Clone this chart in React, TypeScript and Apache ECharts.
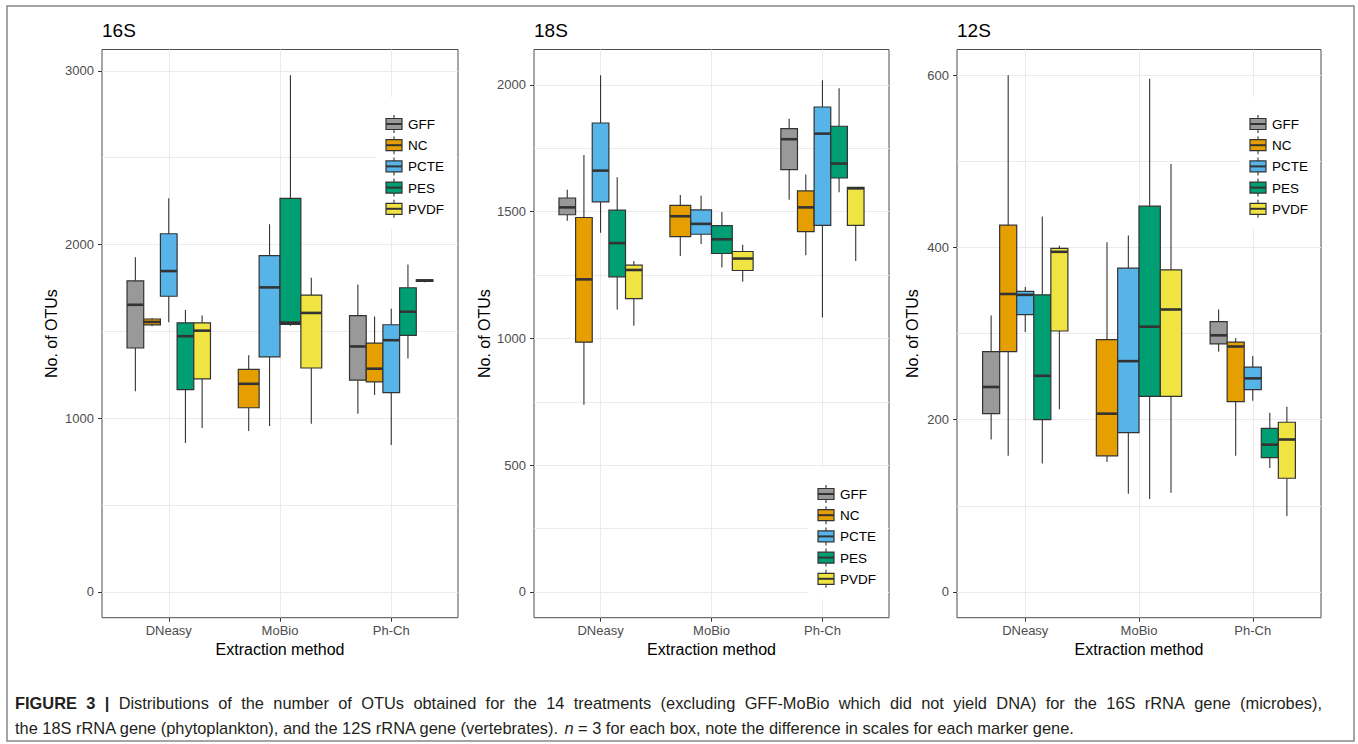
import React, { useEffect, useRef } from 'react';
import * as echarts from 'echarts';

const methods = ['DNeasy', 'MoBio', 'Ph-Ch'];
const treatments = ['GFF', 'NC', 'PCTE', 'PES', 'PVDF'];
const treatmentColors = ['#999999', '#E69F00', '#56B4E9', '#009E73', '#F0E442'];
const panelTitles = ['16S', '18S', '12S'];

type Box = number[] | null;
// per method (DNeasy, MoBio, Ph-Ch): [min, q1, median, q3, max]; null = no DNA
const gff16S: Box[] = [[1155, 1404, 1653, 1791, 1926], null, [1026, 1219, 1413, 1591, 1770]];
const nc16S: Box[] = [[1529, 1537, 1554, 1571, 1577], [926, 1060, 1198, 1281, 1362], [1134, 1209, 1285, 1432, 1585]];
const pcte16S: Box[] = [[1553, 1702, 1847, 2062, 2266], [955, 1353, 1753, 1936, 2117], [845, 1147, 1449, 1538, 1630]];
const pes16S: Box[] = [[857, 1164, 1472, 1549, 1623], [1532, 1540, 1550, 2266, 2974], [1343, 1477, 1613, 1751, 1885]];
const pvdf16S: Box[] = [[943, 1226, 1504, 1549, 1591], [968, 1289, 1606, 1709, 1809], [1783, 1787, 1793, 1797, 1800]];

const gff18S: Box[] = [[1464, 1488, 1517, 1554, 1587], null, [1547, 1666, 1786, 1828, 1867]];
const nc18S: Box[] = [[738, 985, 1233, 1477, 1724], [1325, 1402, 1482, 1525, 1566], [1328, 1421, 1517, 1582, 1647]];
const pcte18S: Box[] = [[1417, 1539, 1662, 1850, 2038], [1373, 1411, 1452, 1507, 1563], [1083, 1446, 1808, 1913, 2019]];
const pes18S: Box[] = [[1114, 1243, 1376, 1506, 1636], [1280, 1335, 1391, 1445, 1499], [1577, 1633, 1690, 1837, 1987]];
const pvdf18S: Box[] = [[1050, 1157, 1270, 1289, 1305], [1224, 1268, 1315, 1343, 1370], [1305, 1446, 1592, 1596, 1596]];

const gff12S: Box[] = [[177, 207, 238, 279, 321], null, [279, 288, 298, 314, 328]];
const nc12S: Box[] = [[158, 279, 346, 426, 600], [151, 158, 207, 293, 406], [158, 221, 285, 290, 295]];
const pcte12S: Box[] = [[302, 322, 345, 349, 354], [114, 185, 268, 376, 414], [222, 235, 248, 261, 274]];
const pes12S: Box[] = [[149, 200, 251, 345, 436], [108, 227, 308, 448, 596], [144, 156, 171, 190, 208]];
const pvdf12S: Box[] = [[212, 303, 395, 399, 402], [115, 227, 328, 374, 497], [88, 132, 177, 197, 215]];

const ticks16S = [0, 1000, 2000, 3000];
const ticks18S = [0, 500, 1000, 1500, 2000];
const ticks12S = [0, 200, 400, 600];

const captionLine1Bold = ['FIGURE', '3', '|'];
const captionLine1 = 'Distributions of the number of OTUs obtained for the 14 treatments (excluding GFF-MoBio which did not yield DNA) for the 16S rRNA gene (microbes),';
const captionLine2a = 'the 18S rRNA gene (phytoplankton), and the 12S rRNA gene (vertebrates). ';
const captionLine2n = 'n';
const captionLine2b = ' = 3 for each box, note the difference in scales for each marker gene.';

const panelData: Box[][][] = [
  [gff16S, nc16S, pcte16S, pes16S, pvdf16S],
  [gff18S, nc18S, pcte18S, pes18S, pvdf18S],
  [gff12S, nc12S, pcte12S, pes12S, pvdf12S],
];
const panelTicks = [ticks16S, ticks18S, ticks12S];

// layout
const FONT = '"Liberation Sans", Arial, Helvetica, sans-serif';
const panelLeft = [102, 534, 957];
const panelWidth = [356, 355, 364];
const panelTop = 49.5;
const panelHeight = 568.2;
const yNameGap = [43, 42, 37];
const legendAnchor = [[394, 124], [826, 494], [1258, 124]];
const DODGE = 0.75;
const INK = '#333333';
const CAP_SIZE = 16.4;
const CAP_LEFT = 15;
const CAP_RIGHT = 1322;

function renderBox(params: any, api: any) {
  const x = api.value(0);
  const slot = api.value(1);
  const n = api.value(2);
  const lo = api.value(3), q1 = api.value(4), med = api.value(5), q3 = api.value(6), hi = api.value(7);
  const w = DODGE / n;
  const xl = x - DODGE / 2 + slot * w;
  const xr = xl + w;
  const xc = xl + w / 2;
  const pHi = api.coord([xc, hi]);
  const pQ3 = api.coord([xc, q3]);
  const pMed = api.coord([xc, med]);
  const pQ1 = api.coord([xc, q1]);
  const pLo = api.coord([xc, lo]);
  const pxl = api.coord([xl, med])[0];
  const pxr = api.coord([xr, med])[0];
  const color = api.visual('color');
  return {
    type: 'group',
    children: [
      { type: 'line', shape: { x1: pHi[0], y1: pHi[1], x2: pQ3[0], y2: pQ3[1] }, style: { stroke: INK, lineWidth: 1.1 } },
      { type: 'line', shape: { x1: pQ1[0], y1: pQ1[1], x2: pLo[0], y2: pLo[1] }, style: { stroke: INK, lineWidth: 1.1 } },
      {
        type: 'rect',
        shape: { x: pxl, y: pQ3[1], width: pxr - pxl, height: pQ1[1] - pQ3[1] },
        style: { fill: color, stroke: INK, lineWidth: 1.2 },
      },
      { type: 'line', shape: { x1: pxl, y1: pMed[1], x2: pxr, y2: pMed[1] }, style: { stroke: INK, lineWidth: 2.6 } },
    ],
  };
}

function measure(text: string, bold: boolean) {
  const c = document.createElement('canvas').getContext('2d');
  if (!c) return text.length * CAP_SIZE * 0.5;
  c.font = (bold ? 'bold ' : '') + CAP_SIZE + 'px ' + FONT;
  return c.measureText(text).width;
}

function buildOption() {
  const grids: any[] = [];
  const xAxes: any[] = [];
  const yAxes: any[] = [];
  const series: any[] = [];
  const titles: any[] = [];
  const graphics: any[] = [];

  panelData.forEach((tData, p) => {
    let M = 0;
    tData.forEach((arr) => arr.forEach((b) => { if (b) M = Math.max(M, b[4]); }));
    const yMin = -0.05 * M;
    const yMax = 1.05 * M;
    const ticks = panelTicks[p];
    const step = ticks[1] - ticks[0];

    titles.push({
      text: panelTitles[p], left: panelLeft[p], top: 21, padding: 0,
      textStyle: { fontSize: 19, fontWeight: 'normal', color: '#000', fontFamily: FONT },
    });
    grids.push({
      left: panelLeft[p], top: panelTop, width: panelWidth[p], height: panelHeight,
      show: true, borderColor: '#4d4d4d', borderWidth: 1, backgroundColor: 'transparent',
    });
    xAxes.push({
      type: 'value', gridIndex: p, min: 0.4, max: 3.6, minInterval: 1, maxInterval: 1,
      axisLine: { show: false, onZero: false },
      axisTick: { show: true, length: 4, lineStyle: { color: INK, width: 1 }, customValues: [1, 2, 3] },
      axisLabel: {
        customValues: [1, 2, 3], margin: 6, fontSize: 13, color: '#4d4d4d', fontFamily: FONT,
        formatter: (v: number) => methods[Math.round(v) - 1] || '',
      },
      splitLine: { show: true, lineStyle: { color: '#ebebeb', width: 1 } },
      name: 'Extraction method', nameLocation: 'middle', nameGap: 23,
      nameTextStyle: { fontSize: 16, color: '#000', fontFamily: FONT },
    });
    yAxes.push({
      type: 'value', gridIndex: p, min: yMin, max: yMax, minInterval: step, maxInterval: step,
      axisLine: { show: false, onZero: false },
      axisTick: { show: true, length: 4, lineStyle: { color: INK, width: 1 }, customValues: ticks },
      axisLabel: {
        customValues: ticks, margin: 8, fontSize: 13, color: '#4d4d4d', fontFamily: FONT,
        formatter: (v: number) => String(Math.round(v)),
      },
      splitLine: { show: true, lineStyle: { color: '#ebebeb', width: 1 } },
      minorTick: { show: false, splitNumber: 2 },
      minorSplitLine: { show: true, lineStyle: { color: '#ebebeb', width: 1 } },
      name: 'No. of OTUs', nameLocation: 'middle', nameGap: yNameGap[p], nameRotate: 90,
      nameTextStyle: { fontSize: 16, color: '#000', fontFamily: FONT },
    });

    treatments.forEach((t, ti) => {
      const data: number[][] = [];
      methods.forEach((m, mi) => {
        const b = tData[ti][mi];
        if (!b) return;
        const present = treatments.filter((_, k) => tData[k][mi] != null);
        const slot = present.indexOf(t);
        data.push([mi + 1, slot, present.length, b[0], b[1], b[2], b[3], b[4]]);
      });
      series.push({
        type: 'custom', name: t, xAxisIndex: p, yAxisIndex: p,
        itemStyle: { color: treatmentColors[ti] },
        renderItem: renderBox,
        encode: { x: 0, y: [3, 4, 5, 6, 7] },
        data, z: 5,
      });
    });

    // legend
    const [cx, cy0] = legendAnchor[p];
    graphics.push({
      type: 'rect', shape: { x: cx - 18, y: cy0 - 27, width: 80, height: 132 },
      style: { fill: '#ffffff' }, z: 50,
    });
    treatments.forEach((t, i) => {
      const cy = cy0 + i * 21.2;
      graphics.push({ type: 'line', shape: { x1: cx, y1: cy - 9, x2: cx, y2: cy + 9 }, style: { stroke: INK, lineWidth: 1.1 }, z: 51 });
      graphics.push({ type: 'rect', shape: { x: cx - 8, y: cy - 5.5, width: 16, height: 11 }, style: { fill: treatmentColors[i], stroke: INK, lineWidth: 1.2 }, z: 52 });
      graphics.push({ type: 'line', shape: { x1: cx - 8, y1: cy, x2: cx + 8, y2: cy }, style: { stroke: INK, lineWidth: 2 }, z: 53 });
      graphics.push({
        type: 'text', x: cx + 14, y: cy + 0.5,
        style: { text: t, fill: '#000', fontSize: 13.5, fontFamily: FONT, align: 'left', verticalAlign: 'middle' }, z: 53,
      });
    });
  });

  // outer frame
  graphics.push({
    type: 'rect', shape: { x: 7, y: 6, width: 1347, height: 735 },
    style: { fill: 'none', stroke: '#888888', lineWidth: 1.5 }, z: 60,
  });

  // caption line 1 (justified)
  const boldWords = captionLine1Bold;
  const plainWords = captionLine1.split(' ');
  let wordsWidth = 0;
  boldWords.forEach((w) => { wordsWidth += measure(w, true); });
  plainWords.forEach((w) => { wordsWidth += measure(w, false); });
  const gaps = boldWords.length + plainWords.length - 1;
  const gapW = Math.max(2, (CAP_RIGHT - CAP_LEFT - wordsWidth) / gaps);
  const tokens = [
    ...boldWords.map((w) => '{b|' + w + '}'),
    ...plainWords.map((w) => '{r|' + w + '}'),
  ];
  graphics.push({
    type: 'text', x: CAP_LEFT, y: 703, z: 60,
    style: {
      text: tokens.join('{s| }'),
      fill: '#231f20', fontSize: CAP_SIZE, fontFamily: FONT, verticalAlign: 'middle',
      rich: {
        b: { fontWeight: 'bold', fontSize: CAP_SIZE, fontFamily: FONT, fill: '#231f20' },
        r: { fontSize: CAP_SIZE, fontFamily: FONT, fill: '#231f20' },
        s: { width: gapW, fontSize: CAP_SIZE, fontFamily: FONT },
      },
    },
  });
  graphics.push({
    type: 'text', x: CAP_LEFT, y: 728, z: 60,
    style: {
      text: captionLine2a + '{i|' + captionLine2n + '}' + captionLine2b,
      fill: '#231f20', fontSize: CAP_SIZE, fontFamily: FONT, verticalAlign: 'middle',
      rich: { i: { fontStyle: 'italic', fontSize: CAP_SIZE, fontFamily: FONT, fill: '#231f20' } },
    },
  });

  return {
    animation: false,
    backgroundColor: '#ffffff',
    textStyle: { fontFamily: FONT },
    title: titles,
    grid: grids,
    xAxis: xAxes,
    yAxis: yAxes,
    series,
    graphic: graphics,
  };
}

export default function App() {
  const ref = useRef<HTMLDivElement>(null);
  useEffect(() => {
    if (!ref.current) return;
    const chart = echarts.init(ref.current, undefined, { renderer: 'svg' });
    chart.setOption(buildOption() as any);
    return () => chart.dispose();
  }, []);
  return (
    <div
      ref={ref}
      style={{ position: 'absolute', left: 0, top: 0, width: 1358, height: 744, background: '#fff' }}
    />
  );
}
